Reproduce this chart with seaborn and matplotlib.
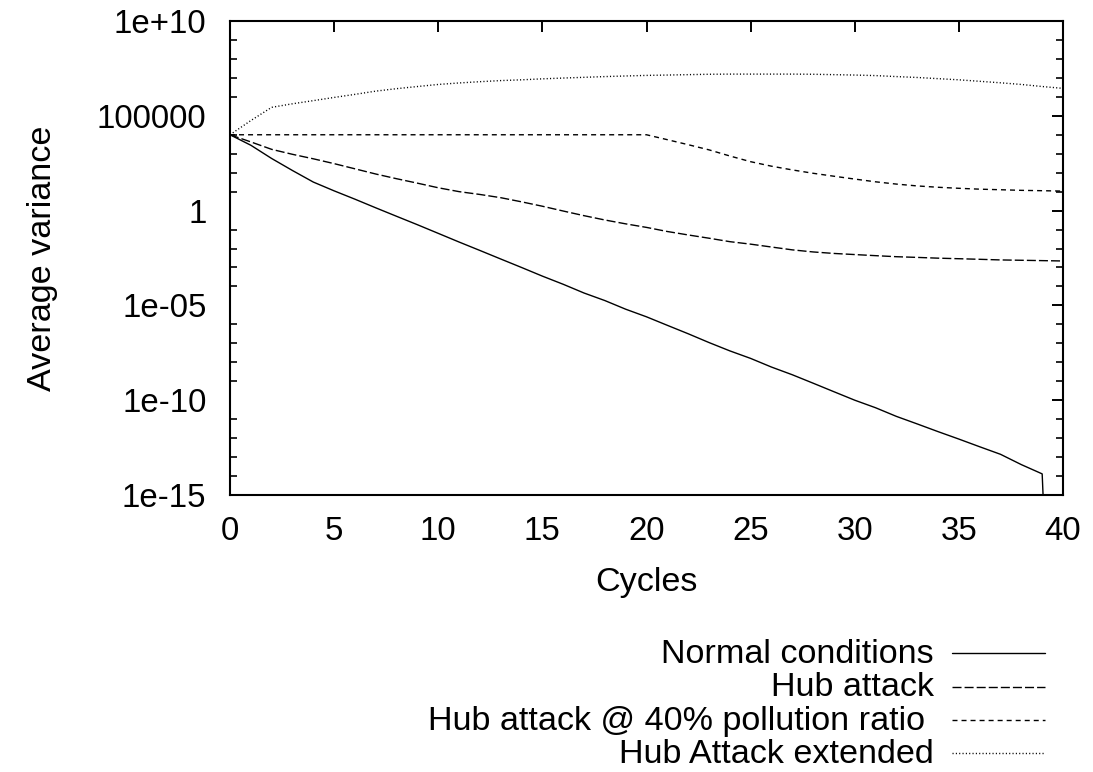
import matplotlib
matplotlib.use("Agg")
import matplotlib.pyplot as plt
from matplotlib.lines import Line2D
import numpy as np
import pandas as pd
import seaborn as sns

# Simulation cycles
cycles = list(range(41))

# Average variance per cycle for each scenario
normal_conditions = [
    1.0e4, 2.8e3, 5.6e2, 1.3e2, 3.2e1, 1.1e1, 4.0, 1.4, 5.0e-1, 1.8e-1,
    6.3e-2, 2.2e-2, 7.9e-3, 2.8e-3, 1.0e-3, 3.5e-4, 1.3e-4, 4.5e-5, 1.8e-5, 6.3e-6,
    2.5e-6, 8.9e-7, 3.2e-7, 1.1e-7, 4.0e-8, 1.6e-8, 5.6e-9, 2.2e-9, 7.9e-10, 2.8e-10,
    1.0e-10, 4.0e-11, 1.4e-11, 5.6e-12, 2.2e-12, 8.9e-13, 3.5e-13, 1.4e-13, 4.0e-14, 1.3e-14,
    1.0e-40,
]
hub_attack = [
    1.0e4, 4.2e3, 1.7e3, 9.3e2, 5.4e2, 3.0e2, 1.6e2, 8.5e1, 4.8e1, 2.8e1,
    1.6e1, 1.0e1, 7.1, 4.8, 2.9, 1.7, 0.95, 0.54, 0.32, 0.20,
    0.13, 7.9e-2, 5.2e-2, 3.5e-2, 2.3e-2, 1.7e-2, 1.2e-2, 8.5e-3, 6.6e-3, 5.5e-3,
    4.8e-3, 4.2e-3, 3.7e-3, 3.4e-3, 3.1e-3, 2.9e-3, 2.7e-3, 2.5e-3, 2.4e-3, 2.3e-3,
    2.2e-3,
]
hub_attack_40 = [
    1.0e4, 1.0e4, 1.0e4, 1.0e4, 1.0e4, 1.0e4, 1.0e4, 1.0e4, 1.0e4, 1.0e4,
    1.0e4, 1.0e4, 1.0e4, 1.0e4, 1.0e4, 1.0e4, 1.0e4, 1.0e4, 1.0e4, 1.0e4,
    1.0e4, 5.5e3, 3.0e3, 1.6e3, 7.6e2, 3.8e2, 2.2e2, 1.4e2, 9.3e1, 6.5e1,
    4.6e1, 3.3e1, 2.5e1, 2.0e1, 1.7e1, 1.5e1, 1.35e1, 1.26e1, 1.17e1, 1.12e1,
    1.07e1,
]
hub_attack_extended = [
    1.0e4, 5.6e4, 2.8e5, 4.3e5, 6.3e5, 9.3e5, 1.35e6, 2.0e6, 2.7e6, 3.5e6,
    4.5e6, 5.4e6, 6.3e6, 7.2e6, 7.9e6, 8.9e6, 9.8e6, 1.07e7, 1.17e7, 1.26e7,
    1.35e7, 1.41e7, 1.48e7, 1.55e7, 1.58e7, 1.58e7, 1.58e7, 1.58e7, 1.55e7, 1.48e7,
    1.41e7, 1.32e7, 1.17e7, 1.05e7, 9.1e6, 7.9e6, 6.6e6, 5.5e6, 4.5e6, 3.5e6,
    2.8e6,
]

labels = [
    "Normal conditions",
    "Hub attack",
    "Hub attack @ 40% pollution ratio ",
    "Hub Attack extended",
]
y_ticks = [1e-15, 1e-10, 1e-5, 1, 1e5, 1e10]
y_tick_labels = ["1e-15", "1e-10", "1e-05", "1", "100000", "1e+10"]
x_ticks = [0, 5, 10, 15, 20, 25, 30, 35, 40]

sns.set_theme(style="white")
plt.rcParams["font.family"] = ["Liberation Sans", "DejaVu Sans"]

TICK_SIZE = 23.8
TEXT_SIZE = 24.6

fig = plt.figure(figsize=(10.93, 7.72), dpi=100)
ax = fig.add_axes([230 / 1093, 1 - 495 / 772, 833 / 1093, 474 / 772])

series = [normal_conditions, hub_attack, hub_attack_40, hub_attack_extended]
dash_styles = [None, (6.5, 2.2), (3.6, 2.9), (0.8, 1.6)]

for name, values, dashes in zip(labels, series, dash_styles):
    df = pd.DataFrame({"cycle": cycles, "variance": values})
    kw = dict(color="black", linewidth=1.0, legend=False, ax=ax)
    line = sns.lineplot(data=df, x="cycle", y="variance", **kw).lines[-1]
    if dashes is not None:
        line.set_dashes(dashes)

ax.set_yscale("log")
ax.set_xlim(0, 40)
ax.set_ylim(1e-15, 1e10)
ax.set_xticks(x_ticks)
ax.set_xticklabels([str(t) for t in x_ticks])
ax.set_yticks(y_ticks)
ax.set_yticklabels(y_tick_labels)
ax.yaxis.set_minor_locator(matplotlib.ticker.LogLocator(base=10, subs=(1.0,), numticks=40))
ax.yaxis.set_minor_formatter(matplotlib.ticker.NullFormatter())

ax.tick_params(axis="both", which="major", direction="in", length=7.8, width=1.4,
               labelsize=TICK_SIZE, top=True, right=True, colors="black")
ax.tick_params(axis="x", which="major", pad=15)
ax.tick_params(axis="y", which="major", pad=17)
ax.tick_params(axis="y", which="minor", direction="in", length=4.8, width=1.4,
               left=True, right=True)
for spine in ax.spines.values():
    spine.set_color("black")
    spine.set_linewidth(1.5)

ax.set_xlabel("Cycles", fontsize=TEXT_SIZE, color="black")
ax.set_ylabel("Average variance", fontsize=TEXT_SIZE, color="black")
ax.xaxis.set_label_coords(0.5, -0.152)
ax.yaxis.set_label_coords(-0.206, 0.5)

# Key below the plot: right-aligned titles with line samples after them
key_baselines = [663, 696.5, 730, 763]
for name, dashes, ypx in zip(labels, dash_styles, key_baselines):
    fig.text(934 / 1093, 1 - ypx / 772, name, ha="right", va="baseline",
             fontsize=TEXT_SIZE, color="black")
    ys = 1 - (ypx - 10) / 772
    sample = Line2D([952 / 1093, 1045 / 1093], [ys, ys], transform=fig.transFigure,
                    color="black", linewidth=1.0)
    if dashes is not None:
        sample.set_dashes(dashes)
    fig.add_artist(sample)

fig.savefig("out.png", dpi=100)
